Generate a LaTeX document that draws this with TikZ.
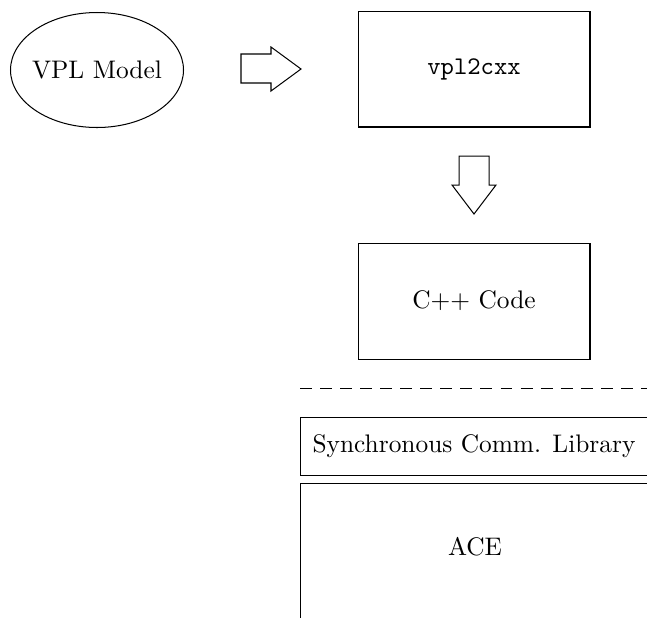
\documentclass[tikz,border=0pt]{standalone}

\tikzset{
  box/.style={draw, rectangle, minimum width=91.4pt, minimum height=45.7pt},
  fatarrow/.style={draw, thin},
  separator/.style={dash pattern=on 4.7pt off 3.2pt},
}

\begin{document}
\begin{tikzpicture}[x=0.394pt, y=-0.394pt]

  \useasboundingbox (0,0) rectangle (647,617);

  % Model and generator
  \node (model) at (97,70) {VPL Model};
  \draw (model.center) ellipse (86.5 and 57.5);
  \node[box] (gen) at (474,69) {\texttt{vpl2cxx}};
  \node[box] (code) at (474,301) {C++ Code};

  % Block arrows
  \draw[fatarrow] (241,54) -- (271,54) -- (271,47) -- (301,69) -- (271,91) -- (271,83) -- (241,83) -- cycle;
  \draw[fatarrow] (459,156) -- (489,156) -- (489,185) -- (496,185) -- (474,214) -- (452,185) -- (459,185) -- cycle;

  % Separator
  \draw[separator] (300,388) -- (660,388);

  % Library layers
  \draw (300,417) rectangle (660,475);
  \node (sync) at (474,446) {Synchronous Comm. Library};
  \draw (300,483) rectangle (660,640);
  \node (ace) at (475,547) {ACE};

\end{tikzpicture}
\end{document}
